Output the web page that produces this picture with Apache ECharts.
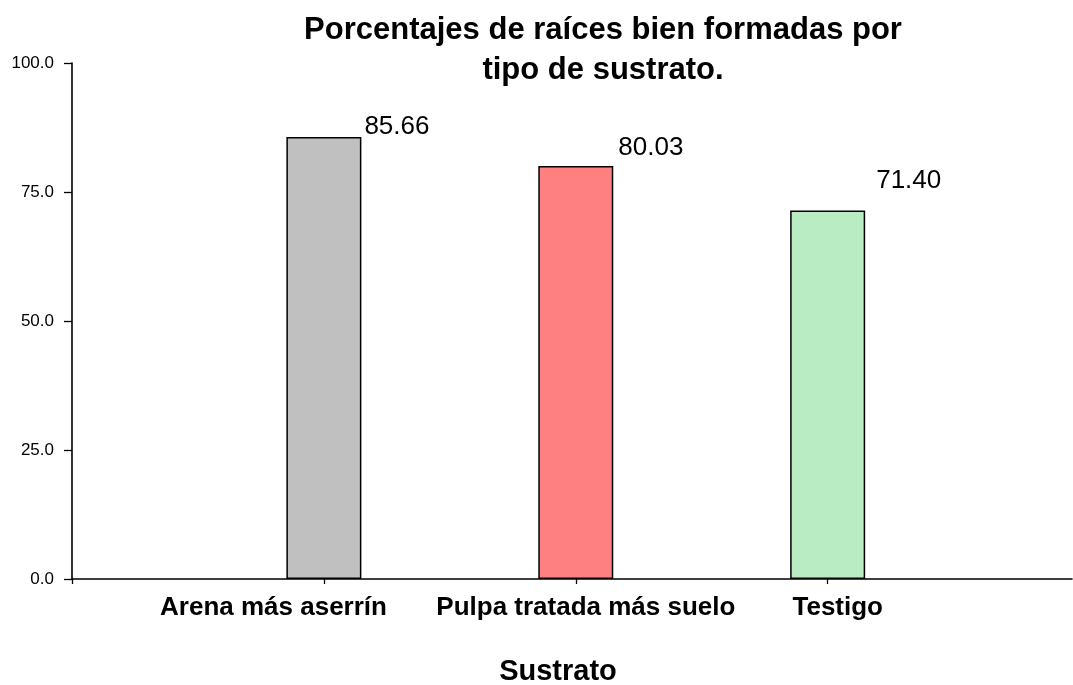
<!DOCTYPE html>
<html>
<head>
<meta charset="utf-8">
<script src="https://cdn.jsdelivr.net/npm/echarts@6/dist/echarts.min.js"></script>
<style>
  html, body { margin: 0; padding: 0; background: #fff; }
  #chart { width: 1073px; height: 685px; }
</style>
</head>
<body>
<div id="chart"></div>
<script>
// datos
var sustratos = ['Arena más aserrín', 'Pulpa tratada más suelo', 'Testigo'];
var porcentajes = [85.66, 80.03, 71.40];
var yTicks = [0, 25, 50, 75, 100];

// layout (no data)
var colores = ['#c0c0c0', '#ff8080', '#b9ecc2'];
var labelPos = [0.8, 2.04, 3.04];        // where each category name sits on the x scale
var valorOffsets = [[78, -10], [80, -18], [86, -30]];
var font = "'Liberation Sans', Arial, sans-serif";

var chart = echarts.init(document.getElementById('chart'));

var barData = porcentajes.map(function (v, i) {
    return {
        value: [i + 1, v],
        itemStyle: { color: colores[i] },
        label: { position: valorOffsets[i] }
    };
});

var option = {
    animation: false,
    title: {
        text: 'Porcentajes de raíces bien formadas por\ntipo de sustrato.',
        left: 598,
        top: 5,
        textAlign: 'center',
        textStyle: {
            fontFamily: font,
            fontWeight: 'bold',
            fontSize: 31,
            lineHeight: 40,
            color: '#000'
        }
    },
    grid: { left: 72, right: 1, top: 63, bottom: 106, containLabel: false, outerBoundsMode: 'none' },
    xAxis: {
        type: 'value',
        min: 0,
        max: 3.97,
        name: 'Sustrato',
        nameLocation: 'middle',
        nameGap: 78,
        nameTextStyle: {
            fontFamily: font, fontWeight: 'bold', fontSize: 29, color: '#000',
            padding: [0, 28, 0, 0]
        },
        axisLine: { show: true, lineStyle: { color: '#000', width: 1.6 } },
        axisTick: { show: true, customValues: [0, 1, 2, 3], length: 5, lineStyle: { color: '#000', width: 1.3 } },
        axisLabel: {
            customValues: labelPos,
            margin: 16,
            fontFamily: font,
            fontWeight: 'bold',
            fontSize: 26,
            color: '#000',
            formatter: function (v) {
                var i = labelPos.indexOf(v);
                return i >= 0 ? sustratos[i] : '';
            }
        },
        splitLine: { show: false }
    },
    yAxis: {
        type: 'value',
        min: yTicks[0],
        max: yTicks[yTicks.length - 1],
        interval: 25,
        axisLine: { show: true, lineStyle: { color: '#000', width: 1.6 } },
        axisTick: { show: true, length: 8, lineStyle: { color: '#000', width: 1.3 } },
        axisLabel: {
            margin: 18,
            fontFamily: font,
            fontSize: 17,
            color: '#000',
            formatter: function (v) { return v.toFixed(1); }
        },
        splitLine: { show: false }
    },
    series: [{
        type: 'bar',
        barWidth: 75,
        data: barData,
        itemStyle: { borderColor: '#000', borderWidth: 1.5 },
        label: {
            show: true,
            align: 'left',
            verticalAlign: 'middle',
            fontFamily: font,
            fontSize: 26,
            color: '#000',
            formatter: function (p) { return p.value[1].toFixed(2); }
        }
    }]
};

chart.setOption(option);
</script>
</body>
</html>
